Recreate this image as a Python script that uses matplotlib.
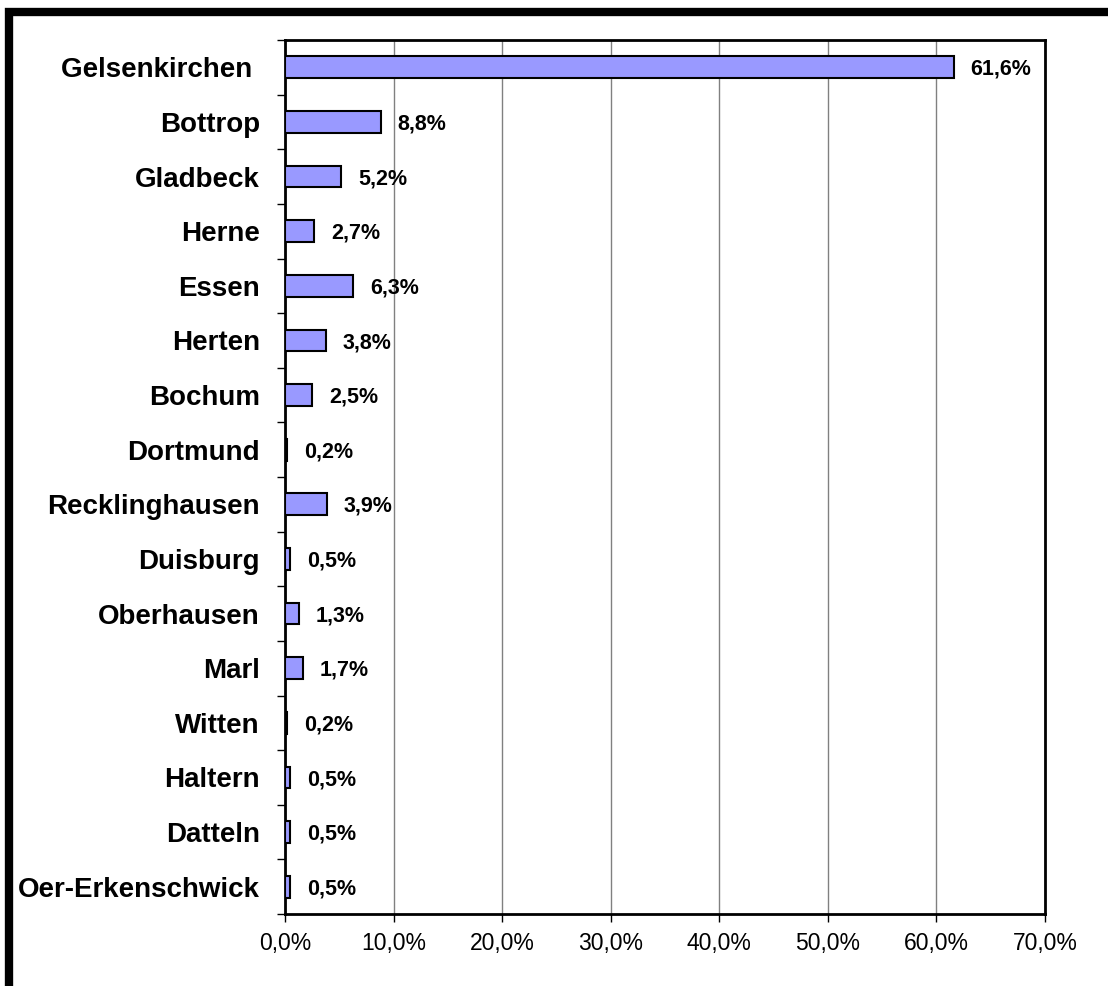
import matplotlib
matplotlib.use("Agg")
import matplotlib.pyplot as plt
from matplotlib.patches import Rectangle
from matplotlib.ticker import FixedLocator, FuncFormatter

cities = ["Gelsenkirchen ", "Bottrop", "Gladbeck", "Herne", "Essen", "Herten", "Bochum",
          "Dortmund", "Recklinghausen", "Duisburg", "Oberhausen", "Marl", "Witten",
          "Haltern", "Datteln", "Oer-Erkenschwick"]
shares = [61.6, 8.8, 5.2, 2.7, 6.3, 3.8, 2.5, 0.2, 3.9, 0.5, 1.3, 1.7, 0.2, 0.5, 0.5, 0.5]
xticks = [0, 10, 20, 30, 40, 50, 60, 70]

plt.rcParams['font.family'] = ['Liberation Sans', 'DejaVu Sans']

W, H = 1108, 986
fig = plt.figure(figsize=(W / 100, H / 100), dpi=100)
fig.patch.set_facecolor('white')

# outer thick frame (extends beyond right/bottom edges)
fig.patches.append(Rectangle((9 / W, -0.05), 1.2, 1 - 11.5 / H + 0.05,
                             transform=fig.transFigure, fill=False,
                             edgecolor='black', linewidth=6, zorder=0))

ax = fig.add_axes([285 / W, 1 - 914 / H, 760 / W, 874 / H])
y = list(range(len(cities)))
ax.barh(y, shares, height=0.4, color='#9999FF', edgecolor='black', linewidth=1.5, zorder=3)

for yi, v in zip(y, shares):
    ax.annotate(f"{v:.1f}%".replace('.', ','), xy=(v, yi), xytext=(12, -1.5),
                textcoords='offset points', va='center', ha='left',
                fontsize=15.5, fontweight='bold', zorder=4)

ax.set_xlim(0, 70)
ax.set_ylim(len(cities) - 0.5, -0.5)
ax.set_xticks(xticks)
ax.xaxis.set_major_formatter(FuncFormatter(lambda x, p: f"{x:.1f}%".replace('.', ',')))
ax.tick_params(axis='x', labelsize=16.5, length=6, width=1, pad=7, direction='out')

ax.set_yticks(y)
ax.set_yticklabels(cities, fontsize=20, fontweight='bold')
ax.tick_params(axis='y', which='major', length=0, pad=18)
ax.yaxis.set_minor_locator(FixedLocator([i - 0.5 for i in range(len(cities) + 1)]))
ax.tick_params(axis='y', which='minor', length=6, width=1, direction='out')

ax.grid(axis='x', color='#808080', linewidth=1, zorder=0)
ax.set_axisbelow(True)
for s in ax.spines.values():
    s.set_linewidth(2)
    s.set_color('black')

fig.savefig('out.png', dpi=100)
